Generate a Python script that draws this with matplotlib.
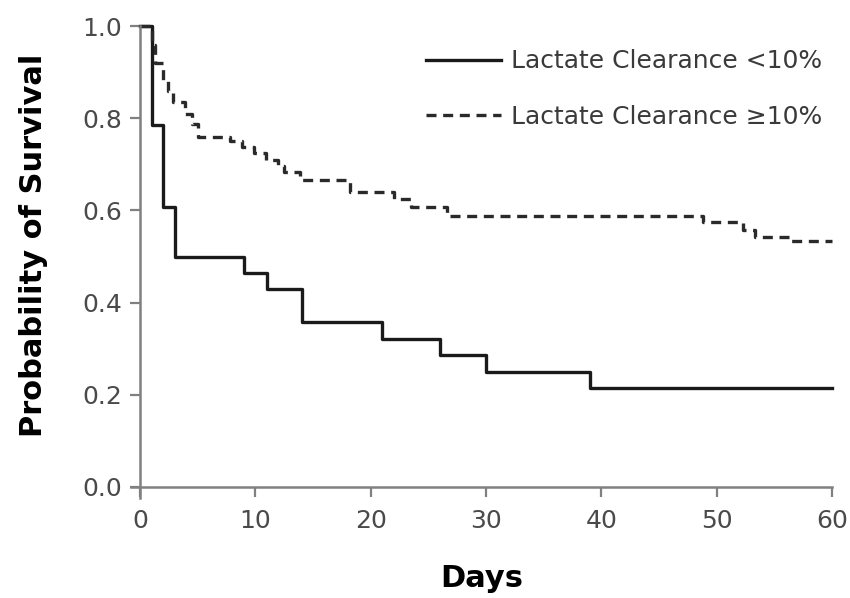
import numpy as np
import matplotlib.pyplot as plt

# Kaplan-Meier steps
days_lo = [0, 1, 2, 3, 9, 11, 14, 21, 26, 30, 39, 60]
surv_lo = [1.0, 0.786, 0.607, 0.50, 0.464, 0.429, 0.357, 0.321, 0.286, 0.25, 0.214, 0.214]

days_hi = [0, 1.0, 1.3, 2.0, 2.4, 2.9, 3.9, 4.5, 5.0, 7.8, 8.8, 9.9, 10.9, 12.0, 12.5,
           13.9, 18.2, 22.0, 23.5, 26.6, 48.8, 52.3, 53.3, 56.3, 60]
surv_hi = [1.0, 0.96, 0.92, 0.88, 0.86, 0.835, 0.81, 0.787, 0.76, 0.75, 0.737, 0.724, 0.71,
           0.697, 0.683, 0.667, 0.641, 0.625, 0.607, 0.589, 0.574, 0.557, 0.543, 0.533, 0.533]

label_lo = "Lactate Clearance <10%"
label_hi = "Lactate Clearance \u226510%"

xticks = [0, 10, 20, 30, 40, 50, 60]
yticks = [0.0, 0.2, 0.4, 0.6, 0.8, 1.0]

plt.rcParams['font.family'] = ['DejaVu Sans']

fig = plt.figure(figsize=(8.5, 5.98), dpi=100)
ax = fig.add_axes([0.1539, 0.1664, 0.825, 0.790])

ax.step(days_lo, surv_lo, where='post', color='#1a1a1a', lw=2.4,
        label=label_lo, clip_on=False)
ax.step(days_hi, surv_hi, where='post', color='#2a2a2a', lw=2.4,
        dashes=(3.0, 2.0), label=label_hi, clip_on=False)

ax.set_xlim(-0.8, 60)
ax.set_ylim(-0.025, 1.0)
ax.spines['left'].set_position(('data', 0))
ax.spines['bottom'].set_position(('data', 0))
for s in ['top', 'right']:
    ax.spines[s].set_visible(False)
for s in ['left', 'bottom']:
    ax.spines[s].set_color('#808080')
    ax.spines[s].set_linewidth(1.8)

ax.set_xticks(xticks)
ax.set_yticks(yticks)
ax.set_yticklabels(["%.1f" % v for v in yticks])
ax.tick_params(axis='both', direction='out', length=7, width=1.6, color='#808080',
               labelsize=18, labelcolor='#4a4a4a')
ax.tick_params(axis='y', pad=6)
ax.tick_params(axis='x', pad=9)

ax.set_xlabel("Days", fontsize=22, fontweight='bold')
ax.set_ylabel("Probability of Survival", fontsize=22, fontweight='bold')
ax.xaxis.set_label_coords(0.5, -0.138)
ax.yaxis.set_label_coords(-0.118, 0.535)

ax.legend(loc='upper right', bbox_to_anchor=(1.0, 0.972), frameon=False, fontsize=18,
          handlelength=3.0, handletextpad=0.4, labelspacing=1.27, borderaxespad=0,
          labelcolor='#3a3a3a')

fig.savefig("out.png", dpi=100, facecolor='white')
